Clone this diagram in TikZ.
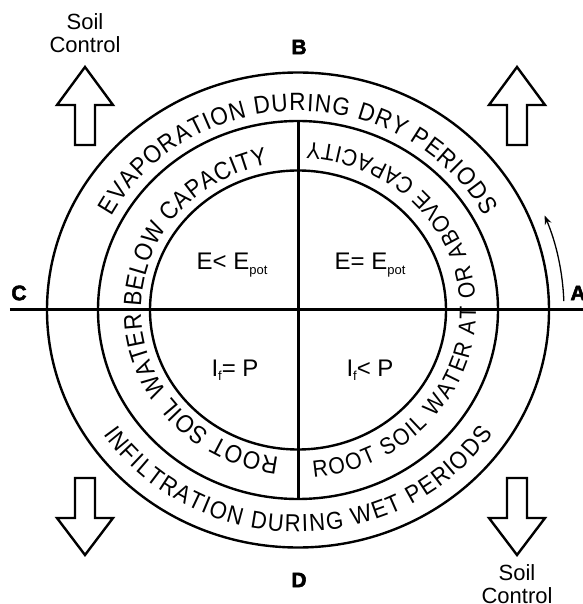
\documentclass[tikz,border=0pt]{standalone}
\usepackage{fontspec}
\setmainfont{Liberation Sans}
\newfontfamily\ringfamily[FakeStretch=0.9]{Liberation Sans}
\newfontfamily\heavyfont[FakeBold=2.5]{Liberation Sans Bold}
\usetikzlibrary{decorations.text,arrows.meta}
\newcommand\lowsub[2]{\raisebox{-#1}{\fontsize{13}{13}\selectfont #2}}
\newcommand\arctext[6]{%
  \path[decorate,decoration={text along path,text align={fit to path},text={|\ringfamily\fontsize{#6}{#6}\selectfont|#5}}]
    ({#3*cos(#1)},{#4*sin(#1)}) arc[start angle=#1,end angle=#2,x radius=#3,y radius=#4];}
\begin{document}
\begin{tikzpicture}[x=1pt,y=1pt,
  ring/.style={line width=2.4pt},
  cross/.style={line width=3pt},
  blockarrow/.style={line width=2.4pt,line join=miter,fill=white},
  heavy/.style={font=\heavyfont\fontsize{21}{21}\selectfont,inner sep=0pt},
  quad/.style={font=\fontsize{24}{24}\selectfont,inner sep=0pt},
  soil/.style={font=\fontsize{22}{22}\selectfont,inner sep=0pt,anchor=base}]
\useasboundingbox (-298,-294) rectangle (284,310);
% cross lines
\coordinate (hl) at (-288,0);
\coordinate (hr) at (292,0);
\coordinate (vt) at (0,189);
\coordinate (vb) at (0,-189);
\draw[cross] (hl) -- (hr);
\draw[cross] (vt) -- (vb);
% rings
\draw[ring] (0,0) ellipse[x radius=251,y radius=237.5];
\draw[ring] (0,0) ellipse[x radius=200,y radius=189];
\draw[ring] (0,0) ellipse[x radius=148,y radius=139.5];
% ring texts
\arctext{152}{28}{211}{199}{EVAPORATION DURING DRY PERIODS}{25}
\arctext{214}{326}{235}{222}{INFILTRATION DURING WET PERIODS}{24.5}
\arctext{263}{101}{157}{148}{ROOT SOIL WATER BELOW CAPACITY}{25}
\arctext{-85}{87}{178}{168}{ROOT SOIL WATER AT OR ABOVE CAPACITY}{23.5}
% quadrant labels
\node[quad] (q1) at (-66,45) {E<\ E\lowsub{5pt}{pot}};
\node[quad] (q2) at (72,45) {E=\ E\lowsub{5pt}{pot}};
\node[quad] (q3) at (-63,-60) {I\lowsub{4pt}{f}=\ P};
\node[quad] (q4) at (72,-60) {I\lowsub{4pt}{f}<\ P};
% letters
\node[heavy] (B) at (1,263) {B};
\node[heavy] (D) at (1,-270) {D};
\node[heavy] (C) at (-279,17) {C};
\node[heavy] (A) at (280,17) {A};
% block arrows
\draw[blockarrow] (-223,165) -- (-223,205) -- (-241,205) -- (-213,243) -- (-185,205) -- (-203,205) -- (-203,165) -- cycle;
\draw[blockarrow] (209,165) -- (209,205) -- (191,205) -- (219,243) -- (247,205) -- (229,205) -- (229,165) -- cycle;
\draw[blockarrow] (-223,-168) -- (-223,-208) -- (-241,-208) -- (-213,-245) -- (-185,-208) -- (-203,-208) -- (-203,-168) -- cycle;
\draw[blockarrow] (209,-168) -- (209,-208) -- (191,-208) -- (219,-245) -- (247,-208) -- (229,-208) -- (229,-168) -- cycle;
% soil control labels
\node[soil] (s1) at (-213,280) {Soil};
\node[soil] (c1) at (-213,257) {Control};
\node[soil] (s2) at (219,-270) {Soil};
\node[soil] (c2) at (219,-293) {Control};
% small rotation arrow
\coordinate (ca) at ({266*cos(2)},{252*sin(2)});
\draw[line width=1.3pt,-{Stealth[length=9pt,width=7pt]}] (ca) arc[start angle=2,end angle=22,x radius=266,y radius=252];
\end{tikzpicture}
\end{document}
